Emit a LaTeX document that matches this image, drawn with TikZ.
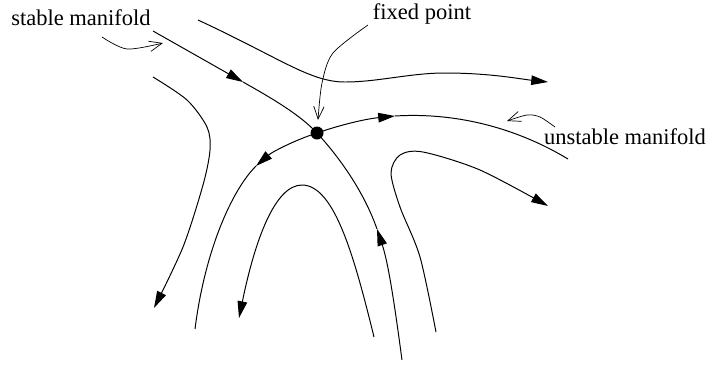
\documentclass[tikz,border=0pt]{standalone}
\usepackage{fontspec}
\setmainfont{Liberation Serif}
\usetikzlibrary{arrows.meta}

\tikzset{
  flow/.style={line width=0.7pt},
  flowtip/.style={flow,-{Triangle[length=4.2mm,width=2.4mm]}},
  pointer/.style={line width=0.5pt,-{Straight Barb[length=3.2mm,width=2.6mm]}},
  lbl/.style={font=\fontsize{16}{19}\selectfont,inner sep=0pt}
}

\begin{document}
\begin{tikzpicture}[x=0.025cm,y=-0.025cm]
        \useasboundingbox (0,0) rectangle (706,364);
\coordinate (fp) at (317,133); % fixed point
\fill (fp) circle (6.5) ; % fixed point dot
\node[lbl] (stabletext) at (81,18) {stable manifold}; % label
\node[lbl] (fixedtext) at (422,14) {fixed point}; % label
\node[lbl] (unstabletext) at (625,137) {unstable manifold}; % label
\coordinate (stableptr) at (102,37); % pointer start
\coordinate (fixedptr) at (368,25); % pointer start
\coordinate (unstableptr) at (555,127); % pointer start
\draw[pointer] plot[smooth] coordinates {(stableptr) (127,49) (163,43)}; % stable pointer
\draw[pointer] plot[smooth] coordinates {(fixedptr) (333,53) (322,83) (318,120)}; % fixed pointer
\draw[pointer] plot[smooth] coordinates {(unstableptr) (540,117) (527,115) (507,121)}; % unstable pointer
\draw[flowtip] (153,31) -- (243,82) ; % stable in, upper
\draw[flow] (243,82) .. controls (275,100) and (300,115) .. (fp) ; % stable in, upper
\draw[flowtip] (402,360) .. controls (394,300) and (388,262) .. (377,229) ; % stable in, lower
\draw[flow] (377,229) .. controls (364,192) and (340,158) .. (fp) ; % stable in, lower
\draw[flowtip] (fp) .. controls (295,140) and (272,152) .. (256,166) ; % unstable out, left
\draw[flow] (256,166) .. controls (232,190) and (205,250) .. (195,329) ; % unstable out, left
\draw[flowtip] (fp) .. controls (340,125) and (365,119) .. (395,116) ; % unstable out, right
\draw[flow] (395,116) .. controls (460,112) and (520,130) .. (568,159) ; % unstable out, right
\draw[flowtip] (198,20) .. controls (280,58) and (310,82) .. (345,82) .. controls (378,82) and (410,73) .. (445,73) .. controls (490,73) and (520,79) .. (548,82) ; % upper right
\draw[flowtip] plot[smooth] coordinates {(153,77) (187,100) (207,127) (210,150) (203,185) (183,247) (154,308)}; % left
\draw[flowtip] (374,337) .. controls (355,260) and (335,185) .. (302,185) .. controls (275,185) and (255,240) .. (239,318) ; % inner arch
\draw[flowtip] plot[smooth] coordinates {(436,332) (420,257) (400,207) (391,173) (400,155) (423,152) (480,170) (548,206)}; % right bend
        \end{tikzpicture}
\end{document}
